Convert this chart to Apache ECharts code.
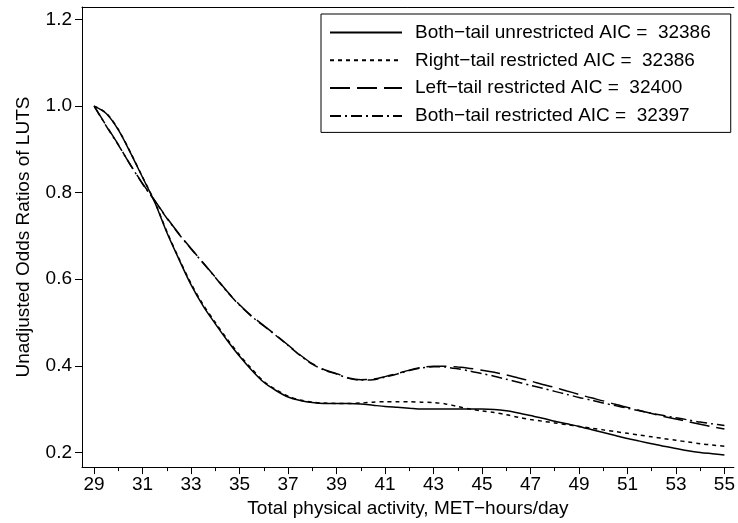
<!DOCTYPE html>
<html>
<head>
<meta charset="utf-8">
<script src="https://cdn.jsdelivr.net/npm/echarts@6/dist/echarts.min.js"></script>
<style>html,body{margin:0;padding:0;background:#fff}#c{width:738px;height:523px}</style>
</head>
<body>
<div id="c"></div>
<script>
// ---- data ----
var xValues = [29,29.5,30,30.5,31,31.5,32,32.5,33,33.5,34,34.5,35,35.5,36,36.5,37,37.5,38,38.5,39,39.5,40,40.5,41,41.5,42,42.5,43,43.5,44,44.5,45,45.5,46,46.5,47,47.5,48,48.5,49,49.5,50,50.5,51,51.5,52,52.5,53,53.5,54,54.5,55];
var bothTailUnrestricted = [1.000,0.983,0.945,0.892,0.835,0.778,0.708,0.646,0.587,0.538,0.497,0.458,0.422,0.390,0.362,0.343,0.328,0.320,0.315,0.313,0.313,0.313,0.312,0.309,0.306,0.304,0.302,0.300,0.300,0.300,0.300,0.300,0.300,0.299,0.296,0.291,0.285,0.279,0.272,0.266,0.260,0.253,0.246,0.239,0.232,0.226,0.220,0.214,0.209,0.204,0.200,0.197,0.194];
var rightTailRestricted = [1.000,0.984,0.946,0.893,0.836,0.779,0.710,0.648,0.590,0.541,0.500,0.461,0.425,0.393,0.364,0.345,0.330,0.321,0.316,0.314,0.313,0.313,0.314,0.316,0.317,0.317,0.317,0.316,0.315,0.312,0.306,0.300,0.296,0.292,0.287,0.281,0.276,0.272,0.268,0.264,0.260,0.256,0.252,0.248,0.244,0.240,0.236,0.232,0.228,0.224,0.220,0.217,0.214];
var leftTailRestricted = [1.000,0.955,0.911,0.864,0.821,0.782,0.742,0.705,0.671,0.638,0.605,0.571,0.541,0.515,0.493,0.471,0.448,0.425,0.405,0.391,0.382,0.372,0.368,0.369,0.375,0.382,0.390,0.396,0.399,0.399,0.397,0.394,0.390,0.385,0.379,0.372,0.365,0.357,0.350,0.342,0.334,0.326,0.319,0.311,0.304,0.297,0.290,0.283,0.277,0.271,0.265,0.259,0.254];
var bothTailRestricted = [1.000,0.954,0.910,0.864,0.820,0.781,0.741,0.704,0.670,0.637,0.604,0.570,0.540,0.514,0.492,0.470,0.447,0.424,0.404,0.390,0.381,0.371,0.367,0.368,0.374,0.381,0.389,0.395,0.398,0.397,0.393,0.388,0.382,0.376,0.369,0.362,0.355,0.348,0.341,0.334,0.327,0.321,0.314,0.308,0.302,0.296,0.290,0.285,0.280,0.275,0.270,0.266,0.262];
var seriesNames = ['Both\u2212tail unrestricted AIC =  32386','Right\u2212tail restricted AIC =  32386','Left\u2212tail restricted AIC =  32400','Both\u2212tail restricted AIC =  32397'];
var xMajorTicks = [29,31,33,35,37,39,41,43,45,47,49,51,53,55];
var xMinorTicks = [30,32,34,36,38,40,42,44,46,48,50,52,54];
var yTicks = [0.2,0.4,0.6,0.8,1.0,1.2];

var FONT = '"Liberation Sans", Arial, Helvetica, sans-serif';
function pairs(ys){ return xValues.map(function(x,i){ return [x, ys[i]]; }); }
var dashes = ['solid',[4,4],[20,7],[11,4,2,4]];
var allY = [bothTailUnrestricted, rightTailRestricted, leftTailRestricted, bothTailRestricted];

var chart = echarts.init(document.getElementById('c'), null, {renderer:'canvas'});
var axisBase = {
  type:'value', min:28.5, max:55.39,
  splitLine:{show:false}
};
chart.setOption({
  animation:false,
  backgroundColor:'#fff',
  textStyle:{fontFamily:FONT},
  grid:{left:82, right:0, top:7, bottom:52},
  legend:{
    orient:'vertical', left:321, top:14,
    padding:[9,20,7,8],
    itemWidth:72, itemHeight:19, itemGap:8.8,
    borderColor:'#000', borderWidth:1,
    itemStyle:{opacity:0, color:'rgba(0,0,0,0)', borderWidth:0},
    textStyle:{fontSize:19, color:'#000', fontFamily:FONT, padding:[0,0,0,8]},
    data:seriesNames
  },
  xAxis:[
    Object.assign({}, axisBase, {
      position:'bottom',
      name:'Total physical activity, MET\u2212hours/day', nameLocation:'middle', nameGap:28,
      nameTextStyle:{fontSize:19, color:'#000', fontFamily:FONT},
      axisLine:{show:true, onZero:false, lineStyle:{color:'#000', width:1}},
      axisTick:{show:true, length:7, customValues:xMajorTicks, lineStyle:{color:'#000', width:1}},
      axisLabel:{show:true, customValues:xMajorTicks, margin:8, fontSize:19, color:'#000', fontFamily:FONT}
    }),
    Object.assign({}, axisBase, {
      position:'bottom',
      axisLine:{show:false, onZero:false},
      axisTick:{show:true, length:4, customValues:xMinorTicks, lineStyle:{color:'#000', width:1}},
      axisLabel:{show:false}
    }),
    Object.assign({}, axisBase, {
      position:'top',
      axisLine:{show:true, onZero:false, lineStyle:{color:'#000', width:1}},
      axisTick:{show:false},
      axisLabel:{show:false}
    })
  ],
  yAxis:{
    type:'value', min:0.166, max:1.229,
    name:'Unadjusted Odds Ratios of LUTS', nameLocation:'middle', nameGap:49,
    nameTextStyle:{fontSize:19, color:'#000', fontFamily:FONT},
    splitLine:{show:false},
    axisLine:{show:true, onZero:false, lineStyle:{color:'#000', width:1}},
    axisTick:{show:true, length:7, customValues:yTicks, lineStyle:{color:'#000', width:1}},
    axisLabel:{show:true, customValues:yTicks, margin:10, fontSize:19, color:'#000', fontFamily:FONT,
      formatter:function(v){ return (+v).toFixed(1); }}
  },
  series: allY.map(function(ys, i){
    return {
      type:'line', name:seriesNames[i], xAxisIndex:0,
      data:pairs(ys), smooth:0.3, symbol:'none', showSymbol:false,
      color:'#000',
      lineStyle:{color:'#000', width:1.5, type:dashes[i]}
    };
  })
});
</script>
</body>
</html>
